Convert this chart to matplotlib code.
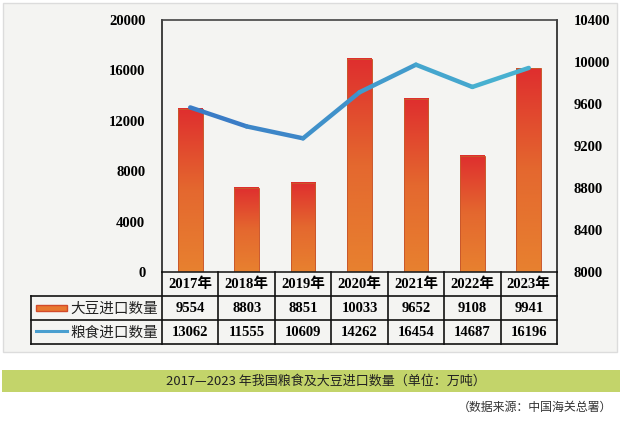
import numpy as np
import matplotlib.pyplot as plt
from matplotlib.collections import LineCollection
from matplotlib.patches import Rectangle
from matplotlib.lines import Line2D
from matplotlib.colors import LinearSegmentedColormap

years = ['2017年', '2018年', '2019年', '2020年', '2021年', '2022年', '2023年']
soybean = [9554, 8803, 8851, 10033, 9652, 9108, 9941]        # 大豆进口数量, right axis
grain = [13062, 11555, 10609, 14262, 16454, 14687, 16196]    # 粮食进口数量, left axis
left_ticks = [0, 4000, 8000, 12000, 16000, 20000]
right_ticks = [8000, 8400, 8800, 9200, 9600, 10000, 10400]
row_labels = ['大豆进口数量', '粮食进口数量']
title = '2017—2023 年我国粮食及大豆进口数量（单位：万吨）'
source = '（数据来源：中国海关总署）'

W, H = 620, 424
serif_b = dict(family=['Liberation Serif', 'Noto Sans CJK SC'], fontweight='bold')
cjk = ['Noto Sans CJK SC', 'DejaVu Sans']

def fx(x):
    return x / W

def fy(y):
    return 1 - y / H

fig = plt.figure(figsize=(W / 100, H / 100), dpi=100)
fig.patch.set_facecolor('white')

# light grey panel behind chart + table
fig.add_artist(Rectangle((fx(3), fy(352)), fx(614), 349 / H, transform=fig.transFigure,
                         facecolor='#f4f4f2', edgecolor='#dcdcdc', lw=1, zorder=0))

# title band
fig.add_artist(Rectangle((fx(2), fy(392)), fx(618), 22 / H, transform=fig.transFigure,
                         facecolor='#c3d46a', edgecolor='none', zorder=0))
fig.text(fx(326), fy(381), title, ha='center', va='center', fontsize=9.4,
         family=cjk, color='#222222')
fig.text(fx(612), fy(407), source, ha='right', va='center', fontsize=8.6,
         family=cjk, color='#333333')

# plot area
x0, x1, ytop, ybot = 162, 557, 20, 272
pos = [fx(x0), fy(ybot), (x1 - x0) / W, (ybot - ytop) / H]
ax = fig.add_axes(pos)
ax.set_facecolor('none')

n = len(years)
xs = np.arange(n)
bw = 0.44
cmap = LinearSegmentedColormap.from_list('bar', ['#e8812f', '#e4682f', '#df2e2e'])
grad = np.linspace(0, 1, 256).reshape(-1, 1)
for xi, v in zip(xs, soybean):
    ax.imshow(grad, extent=(xi - bw / 2, xi + bw / 2, 8000, v), origin='lower',
              cmap=cmap, aspect='auto', zorder=2)
    ax.add_patch(Rectangle((xi - bw / 2, 8000), bw, v - 8000, facecolor='none',
                           edgecolor='#c9582b', lw=0.7, zorder=3))
ax.set_xlim(-0.5, n - 0.5)
ax.set_ylim(8000, 10400)
ax.set_yticks(right_ticks)
ax.yaxis.tick_right()
ax.tick_params(axis='y', length=0, pad=12)
ax.set_xticks([])
for lab in ax.get_yticklabels():
    lab.set_family('Liberation Serif')
    lab.set_fontweight('bold')
    lab.set_fontsize(10.5)
for s in ax.spines.values():
    s.set_visible(False)

ax2 = fig.add_axes(pos, sharex=ax)
ax2.set_facecolor('none')
ax2.set_ylim(0, 20000)
ax2.set_yticks(left_ticks)
ax2.tick_params(axis='y', length=0, pad=12)
ax2.tick_params(axis='x', bottom=False, labelbottom=False)
for lab in ax2.get_yticklabels():
    lab.set_family('Liberation Serif')
    lab.set_fontweight('bold')
    lab.set_fontsize(10.5)
for s in ['left', 'right', 'top', 'bottom']:
    ax2.spines[s].set_color('#222222')
    ax2.spines[s].set_linewidth(1.2)
ax2.spines['top'].set_color('#444444')

pts = np.column_stack([xs, grain])
segs = np.stack([pts[:-1], pts[1:]], axis=1)
line_cmap = LinearSegmentedColormap.from_list('ln', ['#3a7cc6', '#48b0d0'])
lc = LineCollection(segs, colors=line_cmap(np.linspace(0, 1, len(segs))),
                    linewidths=3.2, capstyle='round', joinstyle='round', zorder=4)
ax2.add_collection(lc)

# table below plot
tx0 = 31
col_w = (x1 - x0) / n
lw = 1.2
def hline(y, xa, xb):
    fig.add_artist(Line2D([fx(xa), fx(xb)], [fy(y), fy(y)], color='#111111', lw=lw))

def vline(x, ya, yb):
    fig.add_artist(Line2D([fx(x), fx(x)], [fy(ya), fy(yb)], color='#111111', lw=lw))

hline(296, tx0, x1)
hline(320, tx0, x1)
hline(344, tx0, x1)
vline(tx0, 296, 344)
for i in range(n + 1):
    vline(x0 + i * col_w, 272, 344)

for i, yr in enumerate(years):
    cx = x0 + (i + 0.5) * col_w
    fig.text(fx(cx), fy(284.5), yr, ha='center', va='center', fontsize=10.5, **serif_b)
    fig.text(fx(cx), fy(308.5), str(soybean[i]), ha='center', va='center', fontsize=10.5,
             **serif_b)
    fig.text(fx(cx), fy(332.5), str(grain[i]), ha='center', va='center', fontsize=10.5,
             **serif_b)

# legend swatches inside table
fig.add_artist(Rectangle((fx(36), fy(311)), fx(31), 6 / H, transform=fig.transFigure,
                         facecolor='#e8782f', edgecolor='#d24a2a', lw=1))
fig.add_artist(Line2D([fx(36), fx(67)], [fy(331), fy(331)], color='#4a9fd0', lw=2.2))
for lab, yy in zip(row_labels, [308.5, 332.5]):
    fig.text(fx(70), fy(yy), lab, ha='left', va='center', fontsize=10.5,
             family=cjk, color='#222222')

fig.savefig('out.png', dpi=100)
